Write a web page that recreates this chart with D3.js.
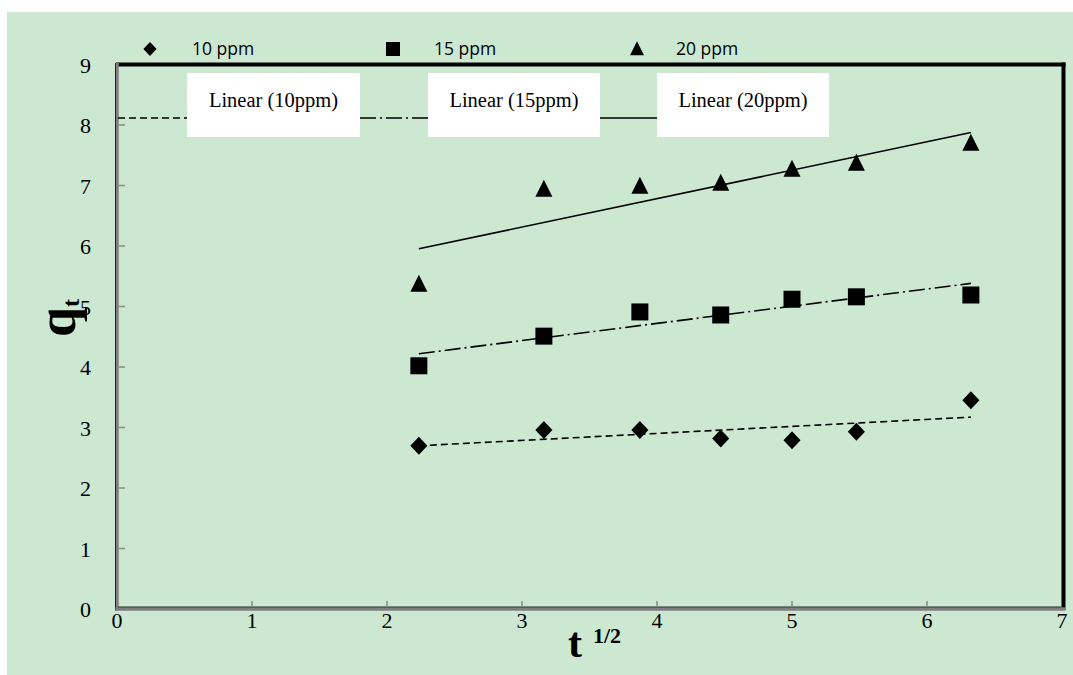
<!DOCTYPE html>
<html>
<head>
<meta charset="utf-8">
<script src="https://cdn.jsdelivr.net/npm/d3@7"></script>
<style>
  html, body { margin: 0; padding: 0; background: #ffffff; }
  svg { display: block; }
</style>
</head>
<body>
<svg id="chart" width="1073" height="675"></svg>
<script>
// ---- data ----
const tValues = [2.236, 3.162, 3.873, 4.472, 5.0, 5.477, 6.325];
const q10 = [2.70, 2.96, 2.96, 2.82, 2.79, 2.93, 3.45];
const q15 = [4.02, 4.51, 4.91, 4.86, 5.12, 5.16, 5.19];
const q20 = [5.37, 6.94, 6.99, 7.04, 7.27, 7.37, 7.70];
const seriesNames = ["10 ppm", "15 ppm", "20 ppm"];
const trendNames = ["Linear (10ppm)", "Linear (15ppm)", "Linear (20ppm)"];
const xTicks = [0, 1, 2, 3, 4, 5, 6, 7];
const yTicks = [0, 1, 2, 3, 4, 5, 6, 7, 8, 9];

const svg = d3.select("#chart");
const serif = "'Liberation Serif', 'Times New Roman', serif";
const sans = "'Open Sans', 'Liberation Sans', sans-serif";

// background
svg.append("rect").attr("x", 7).attr("y", 12).attr("width", 1073 - 7).attr("height", 675 - 12)
  .attr("fill", "#cce8d1");

const x = d3.scaleLinear().domain([0, 7]).range([117, 1062]);
const y = d3.scaleLinear().domain([0, 9]).range([609, 64.5]);

// frame
const x0 = x(0), x1 = x(7) + 1.5, y0 = y(0), y1 = y(9);
svg.append("line").attr("x1", x0 - 1).attr("x2", x1 + 2).attr("y1", y1).attr("y2", y1)
  .attr("stroke", "#000").attr("stroke-width", 4);
svg.append("line").attr("x1", x1).attr("x2", x1).attr("y1", y1 - 2).attr("y2", y0 + 1)
  .attr("stroke", "#000").attr("stroke-width", 4);
// left & bottom (gray with dark edge)
svg.append("line").attr("x1", x0).attr("x2", x0).attr("y1", y1 - 1.5).attr("y2", y0 + 1.5)
  .attr("stroke", "#7f7f7f").attr("stroke-width", 3.5);
svg.append("line").attr("x1", x0 - 1.5).attr("x2", x0 - 1.5).attr("y1", y1 - 1.5).attr("y2", y0 + 1.5)
  .attr("stroke", "#222").attr("stroke-width", 1);
svg.append("line").attr("x1", x0 - 1.5).attr("x2", x1 + 2).attr("y1", y0).attr("y2", y0)
  .attr("stroke", "#7f7f7f").attr("stroke-width", 3.5);
svg.append("line").attr("x1", x0 + 1).attr("x2", x1 - 2).attr("y1", y0 - 2).attr("y2", y0 - 2)
  .attr("stroke", "#222").attr("stroke-width", 1);

// ticks (inside)
svg.selectAll(".xt").data(xTicks.slice(1, -1)).enter().append("line")
  .attr("x1", d => x(d)).attr("x2", d => x(d)).attr("y1", y0 - 2).attr("y2", y0 - 8)
  .attr("stroke", "#8a8a8a").attr("stroke-width", 1.5);
svg.selectAll(".yt").data(yTicks.slice(1, -1)).enter().append("line")
  .attr("x1", x0 + 2).attr("x2", x0 + 8).attr("y1", d => y(d)).attr("y2", d => y(d))
  .attr("stroke", "#8a8a8a").attr("stroke-width", 1.5);

// tick labels
svg.selectAll(".xl").data(xTicks).enter().append("text")
  .attr("x", d => x(d)).attr("y", 628).attr("text-anchor", "middle")
  .attr("font-family", serif).attr("font-size", 22).attr("fill", "#000")
  .text(d => d);
svg.selectAll(".yl").data(yTicks).enter().append("text")
  .attr("x", 91).attr("y", d => y(d) + 8).attr("text-anchor", "end")
  .attr("font-family", serif).attr("font-size", 22).attr("fill", "#000")
  .text(d => d);

// axis titles
const xt = svg.append("text").attr("x", 568).attr("y", 657)
  .attr("font-family", serif).attr("font-weight", "bold").attr("fill", "#000");
xt.append("tspan").attr("font-size", 42).text("t");
xt.append("tspan").attr("font-size", 22).attr("dx", 11).attr("dy", -14).text("1/2");

const yt = svg.append("text").attr("transform", "translate(75,337) rotate(-90)")
  .attr("font-family", serif).attr("font-weight", "bold").attr("fill", "#000");
yt.append("tspan").attr("font-size", 54).text("q");
yt.append("tspan").attr("font-size", 24).attr("dy", 4).text("t");

// trend lines (least squares)
function fit(xs, ys) {
  const n = xs.length, mx = d3.mean(xs), my = d3.mean(ys);
  let sxy = 0, sxx = 0;
  for (let i = 0; i < n; i++) { sxy += (xs[i] - mx) * (ys[i] - my); sxx += (xs[i] - mx) ** 2; }
  const b = sxy / sxx, a = my - b * mx;
  return t => a + b * t;
}
const dashes = ["7,4", "16,4,2,4", null];
const allSeries = [q10, q15, q20];
const xmin = d3.min(tValues), xmax = d3.max(tValues);
allSeries.forEach((s, i) => {
  const f = fit(tValues, s);
  const l = svg.append("line")
    .attr("x1", x(xmin)).attr("y1", y(f(xmin)))
    .attr("x2", x(xmax)).attr("y2", y(f(xmax)))
    .attr("stroke", "#000").attr("stroke-width", 1.6);
  if (dashes[i]) l.attr("stroke-dasharray", dashes[i]);
});

// markers
const diamond = (cx, cy, r) => `M${cx},${cy - r}L${cx + r * 0.95},${cy}L${cx},${cy + r}L${cx - r * 0.95},${cy}Z`;
const square = (cx, cy, r) => `M${cx - r},${cy - r}H${cx + r}V${cy + r}H${cx - r}Z`;
const tri = (cx, cy, r) => `M${cx},${cy - r * 1.1}L${cx + r},${cy + r * 0.9}L${cx - r},${cy + r * 0.9}Z`;
const shapes = [diamond, square, tri];
const sizes = [9, 8.5, 8.5];
allSeries.forEach((s, i) => {
  svg.selectAll(".m" + i).data(s).enter().append("path")
    .attr("d", (d, j) => shapes[i](x(tValues[j]), y(d), sizes[i]))
    .attr("fill", "#000");
});

// legend row 1
const legX = [150, 393, 637];
const legTextX = [192, 434, 676];
seriesNames.forEach((n, i) => {
  svg.append("path").attr("d", shapes[i](legX[i], 49, 7)).attr("fill", "#000");
  svg.append("text").attr("x", legTextX[i]).attr("y", 55)
    .attr("font-family", sans).attr("font-size", 17.5).attr("fill", "#000").text(n);
});

// legend row 2 (trend lines)
const boxX = [187, 428, 657];
const boxW = [173, 172, 172];
const lineSeg = [[118, 187], [360, 428], [600, 657]];
trendNames.forEach((n, i) => {
  const l = svg.append("line").attr("x1", lineSeg[i][0]).attr("x2", lineSeg[i][1])
    .attr("y1", 118).attr("y2", 118).attr("stroke", "#000").attr("stroke-width", 1.6);
  if (dashes[i]) l.attr("stroke-dasharray", dashes[i]);
  svg.append("rect").attr("x", boxX[i]).attr("y", 73).attr("width", boxW[i]).attr("height", 64)
    .attr("fill", "#ffffff");
  svg.append("text").attr("x", boxX[i] + boxW[i] / 2).attr("y", 107).attr("text-anchor", "middle")
    .attr("font-family", serif).attr("font-size", 20.5).attr("fill", "#000").text(n);
});
</script>
</body>
</html>
